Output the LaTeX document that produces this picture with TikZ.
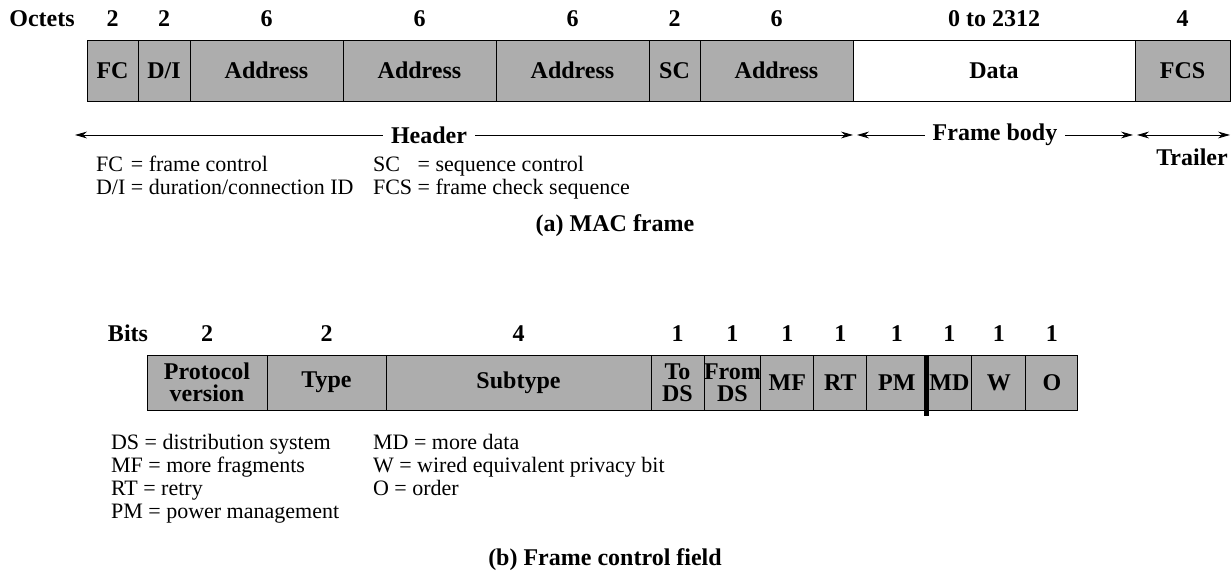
\documentclass[tikz,border=0pt]{standalone}
\usepackage{fontspec}
\setmainfont{Liberation Serif}
\usetikzlibrary{arrows.meta,positioning}

\begin{document}
\begin{tikzpicture}[x=0.5pt,y=-0.5pt,>={Stealth[length=6pt,width=3.4pt]},
  fld/.style={draw,fill=black!32,outer sep=0pt,inner sep=0pt,align=center,
    minimum height=30.5pt,font=\fontsize{12}{11}\selectfont\bfseries},
  bitfld/.style={fld,minimum height=27.5pt},
  num/.style={anchor=base,font=\fontsize{12}{14}\selectfont\bfseries},
  lab/.style={font=\fontsize{12}{14}\selectfont\bfseries},
  note/.style={anchor=west,align=left,font=\fontsize{11}{11.5}\selectfont}]
\useasboundingbox (0,0) rectangle (1232,581);

% (a) MAC frame
\node[fld,minimum width=25.5pt,anchor=north west] (fc) at (87,40) {FC};
\node[fld,minimum width=26pt,right=0pt of fc] (di) {D/I};
\node[fld,minimum width=76.5pt,right=0pt of di] (ad1) {Address};
\node[fld,minimum width=76.5pt,right=0pt of ad1] (ad2) {Address};
\node[fld,minimum width=76.5pt,right=0pt of ad2] (ad3) {Address};
\node[fld,minimum width=25.5pt,right=0pt of ad3] (sc) {SC};
\node[fld,minimum width=76.5pt,right=0pt of sc] (ad4) {Address};
\node[fld,fill=white,minimum width=141pt,right=0pt of ad4] (data) {Data};
\node[fld,minimum width=47.5pt,right=0pt of data] (fcs) {FCS};

\node[num] (oct) at (42,27) {Octets};
\foreach \b/\n in {fc/2,di/2,ad1/6,ad2/6,ad3/6,sc/2,ad4/6,data/0 to 2312,fcs/4}
  \node[num] (n\b) at (\b.north |- 0,27) {\n};

\coordinate (hl) at (75,135);
\coordinate (hr) at (853,135);
\coordinate (bl) at (857,135);
\coordinate (br) at (1133,135);
\coordinate (tl) at (1137,135);
\coordinate (tr) at (1230,135);
\draw[<->] (hl) -- (hr) node[lab,fill=white,inner sep=4pt,pos=0.455] (hdr) {Header};
\draw[<->] (bl) -- (br) node[lab,fill=white,inner sep=4pt,midway] (body) {Frame body};
\draw[<->] (tl) -- (tr);
\node[lab] (trl) at (1192,157) {Trailer};

\node[note] (keya) at (89,178) {\begin{tabular}{@{}l@{ }l@{}}FC & = frame control\\D/I & = duration/connection ID\end{tabular}};
\node[note] (keyb) at (366,178) {\begin{tabular}{@{}l@{ }l@{}}SC & = sequence control\\FCS & = frame check sequence\end{tabular}};
\node[lab] (capa) at (615,226) {(a) MAC frame};

% (b) Frame control field
\node[bitfld,minimum width=60pt,anchor=north west] (pv) at (147,355) {Protocol\\version};
\node[bitfld,minimum width=59.5pt,right=0pt of pv] (ty) {Type};
\node[bitfld,minimum width=132.5pt,right=0pt of ty] (st) {Subtype};
\node[bitfld,minimum width=26.5pt,right=0pt of st] (tds) {To\\DS};
\node[bitfld,minimum width=26pt,right=0pt of tds] (fds) {From\\DS};
\node[bitfld,minimum width=26.5pt,right=0pt of fds] (mf) {MF};
\node[bitfld,minimum width=26.5pt,right=0pt of mf] (rt) {RT};
\node[bitfld,minimum width=30pt,right=0pt of rt] (pm) {PM};
\node[bitfld,minimum width=22.5pt,right=0pt of pm] (md) {MD};
\node[bitfld,minimum width=27pt,right=0pt of md] (w) {W};
\node[bitfld,minimum width=26pt,right=0pt of w] (o) {O};
\draw[line width=2.5pt] (pm.north east) -- ([yshift=-3pt]pm.south east);

\node[num] (bits) at (128,342) {Bits};
\foreach \b/\n in {pv/2,ty/2,st/4,tds/1,fds/1,mf/1,rt/1,pm/1,md/1,w/1,o/1}
  \node[num] (n\b) at (\b.north |- 0,342) {\n};

\node[note,anchor=north west] (keyc) at (104,427) {DS = distribution system\\MF = more fragments\\RT = retry\\PM = power management};
\node[note,anchor=north west] (keyd) at (366,427) {MD = more data\\W = wired equivalent privacy bit\\O = order};
\node[lab] (capb) at (605,560) {(b) Frame control field};
\end{tikzpicture}
\end{document}
